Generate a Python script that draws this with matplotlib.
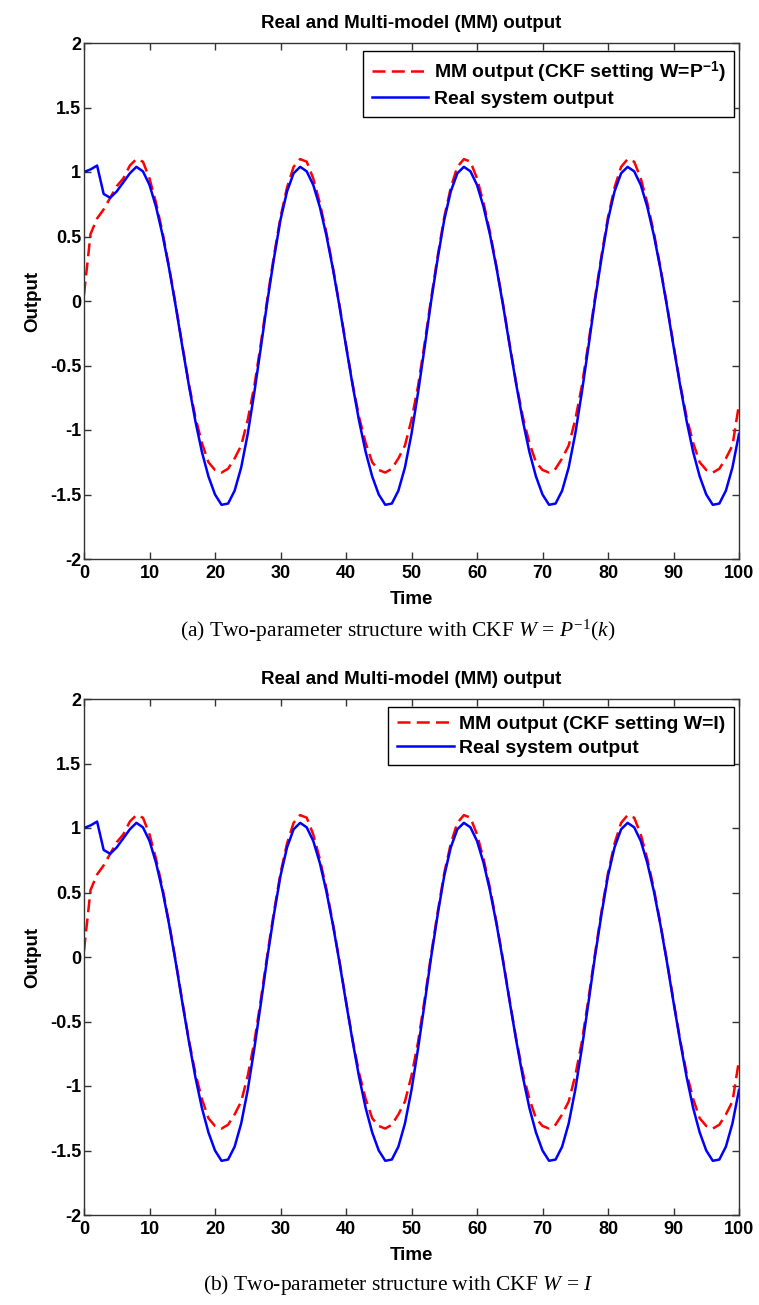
import matplotlib
matplotlib.use("Agg")
import matplotlib.pyplot as plt

# ---------------- data ----------------
time = list(range(0, 101))

real_output = [
    1.00, 1.02, 1.05, 0.83, 0.80, 0.85, 0.92, 0.99,
    1.04, 1.005, 0.90, 0.73, 0.51, 0.25, -0.04, -0.35, -0.65, -0.93, -1.17, -1.36, -1.50, -1.58,
    -1.57, -1.47, -1.29, -1.03, -0.71, -0.36, 0.00, 0.33, 0.63, 0.85, 0.99,
    1.04, 1.005, 0.90, 0.73, 0.51, 0.25, -0.04, -0.35, -0.65, -0.93, -1.17, -1.36, -1.50, -1.58,
    -1.57, -1.47, -1.29, -1.03, -0.71, -0.36, 0.00, 0.33, 0.63, 0.85, 0.99,
    1.04, 1.005, 0.90, 0.73, 0.51, 0.25, -0.04, -0.35, -0.65, -0.93, -1.17, -1.36, -1.50, -1.58,
    -1.57, -1.47, -1.29, -1.03, -0.71, -0.36, 0.00, 0.33, 0.63, 0.85, 0.99,
    1.04, 1.005, 0.90, 0.73, 0.51, 0.25, -0.04, -0.35, -0.65, -0.93, -1.17, -1.36, -1.50, -1.58,
    -1.57, -1.47, -1.29, -1.03,
]

mm_output_a = [
    0.05, 0.52, 0.64, 0.71, 0.80, 0.89, 0.95, 1.05,
    1.10, 1.08, 0.95, 0.76, 0.53, 0.26, -0.03, -0.34, -0.64, -0.90, -1.10, -1.25, -1.31, -1.33,
    -1.30, -1.22, -1.12, -0.92, -0.66, -0.33, 0.02, 0.35, 0.65, 0.88, 1.04,
    1.10, 1.08, 0.95, 0.76, 0.53, 0.26, -0.03, -0.34, -0.64, -0.90, -1.10, -1.25, -1.31, -1.33,
    -1.30, -1.22, -1.12, -0.92, -0.66, -0.33, 0.02, 0.35, 0.65, 0.88, 1.04,
    1.10, 1.08, 0.95, 0.76, 0.53, 0.26, -0.03, -0.34, -0.64, -0.90, -1.10, -1.25, -1.31, -1.33,
    -1.30, -1.22, -1.12, -0.92, -0.66, -0.33, 0.02, 0.35, 0.65, 0.88, 1.04,
    1.10, 1.08, 0.95, 0.76, 0.53, 0.26, -0.03, -0.34, -0.64, -0.90, -1.10, -1.25, -1.31, -1.33,
    -1.30, -1.22, -1.12, -0.80,
]
mm_output_b = list(mm_output_a)

x_ticks = [0, 10, 20, 30, 40, 50, 60, 70, 80, 90, 100]
y_ticks = [-2, -1.5, -1, -0.5, 0, 0.5, 1, 1.5, 2]
y_tick_labels = ["-2", "-1.5", "-1", "-0.5", "0", "0.5", "1", "1.5", "2"]

title_text = "Real and Multi-model (MM) output"
legend_mm_a = r"MM output (CKF setting W=P$^{\mathbf{-1}}$)"
legend_mm_b = "MM output (CKF setting W=I)"
legend_real = "Real system output"
caption_a = r"(a) Two-parameter structure with CKF $W$ = $P^{-1}(k)$"
caption_b = r"(b) Two-parameter structure with CKF $W$ = $I$"

# ---------------- styling ----------------
plt.rcParams["font.family"] = ["Liberation Sans", "DejaVu Sans"]
plt.rcParams["mathtext.fontset"] = "custom"
plt.rcParams["mathtext.rm"] = "Liberation Serif"
plt.rcParams["mathtext.it"] = "Liberation Serif:italic"
plt.rcParams["mathtext.bf"] = "Liberation Sans:bold"

W, H = 759, 1305
fig = plt.figure(figsize=(W / 100, H / 100), dpi=100)


def px_axes(left, top, right, bottom):
    return fig.add_axes([left / W, 1 - bottom / H, (right - left) / W, (bottom - top) / H])


def draw_panel(ax, mm_vals, mm_label, caption, cap_y):
    ax.plot(time, mm_vals, color="#ff0000", lw=1.8, linestyle=(0, (5.2, 2.5)), label=mm_label)
    ax.plot(time, real_output, color="#0000ff", lw=1.8, label=legend_real)
    ax.set_xlim(0, 100)
    ax.set_ylim(-2, 2)
    ax.set_xticks(x_ticks)
    ax.set_xticklabels([str(t) for t in x_ticks])
    ax.set_yticks(y_ticks)
    ax.set_yticklabels(y_tick_labels)
    ax.tick_params(direction="in", length=5, width=1, top=True, right=True,
                   labelsize=13, color="#333333")
    ax.tick_params(axis="x", pad=4)
    ax.tick_params(axis="y", pad=2)
    for lab in ax.get_xticklabels() + ax.get_yticklabels():
        lab.set_fontweight("bold")
    for s in ax.spines.values():
        s.set_color("#333333")
        s.set_linewidth(1.0)
    ax.set_title(title_text, fontsize=13.5, fontweight="bold", pad=11)
    ax.set_xlabel("Time", fontsize=13.5, fontweight="bold", labelpad=7)
    ax.set_ylabel("Output", fontsize=13.5, fontweight="bold", labelpad=6)
    leg = ax.legend(loc="upper right", bbox_to_anchor=(0.993, 0.985), borderaxespad=0,
                    fancybox=False, framealpha=1, edgecolor="black",
                    prop={"weight": "bold", "size": 14}, handlelength=2.9,
                    handletextpad=0.3, borderpad=0.45, labelspacing=0.3)
    leg.get_frame().set_linewidth(1.0)
    fig.text(398 / W, 1 - cap_y / H, caption, ha="center", va="center",
             fontsize=15.5, family="Liberation Serif")


ax1 = px_axes(84, 43, 739, 559)
draw_panel(ax1, mm_output_a, legend_mm_a, caption_a, 631)

ax2 = px_axes(84, 699, 739, 1215)
draw_panel(ax2, mm_output_b, legend_mm_b, caption_b, 1285)

fig.savefig("out.png", dpi=100)
